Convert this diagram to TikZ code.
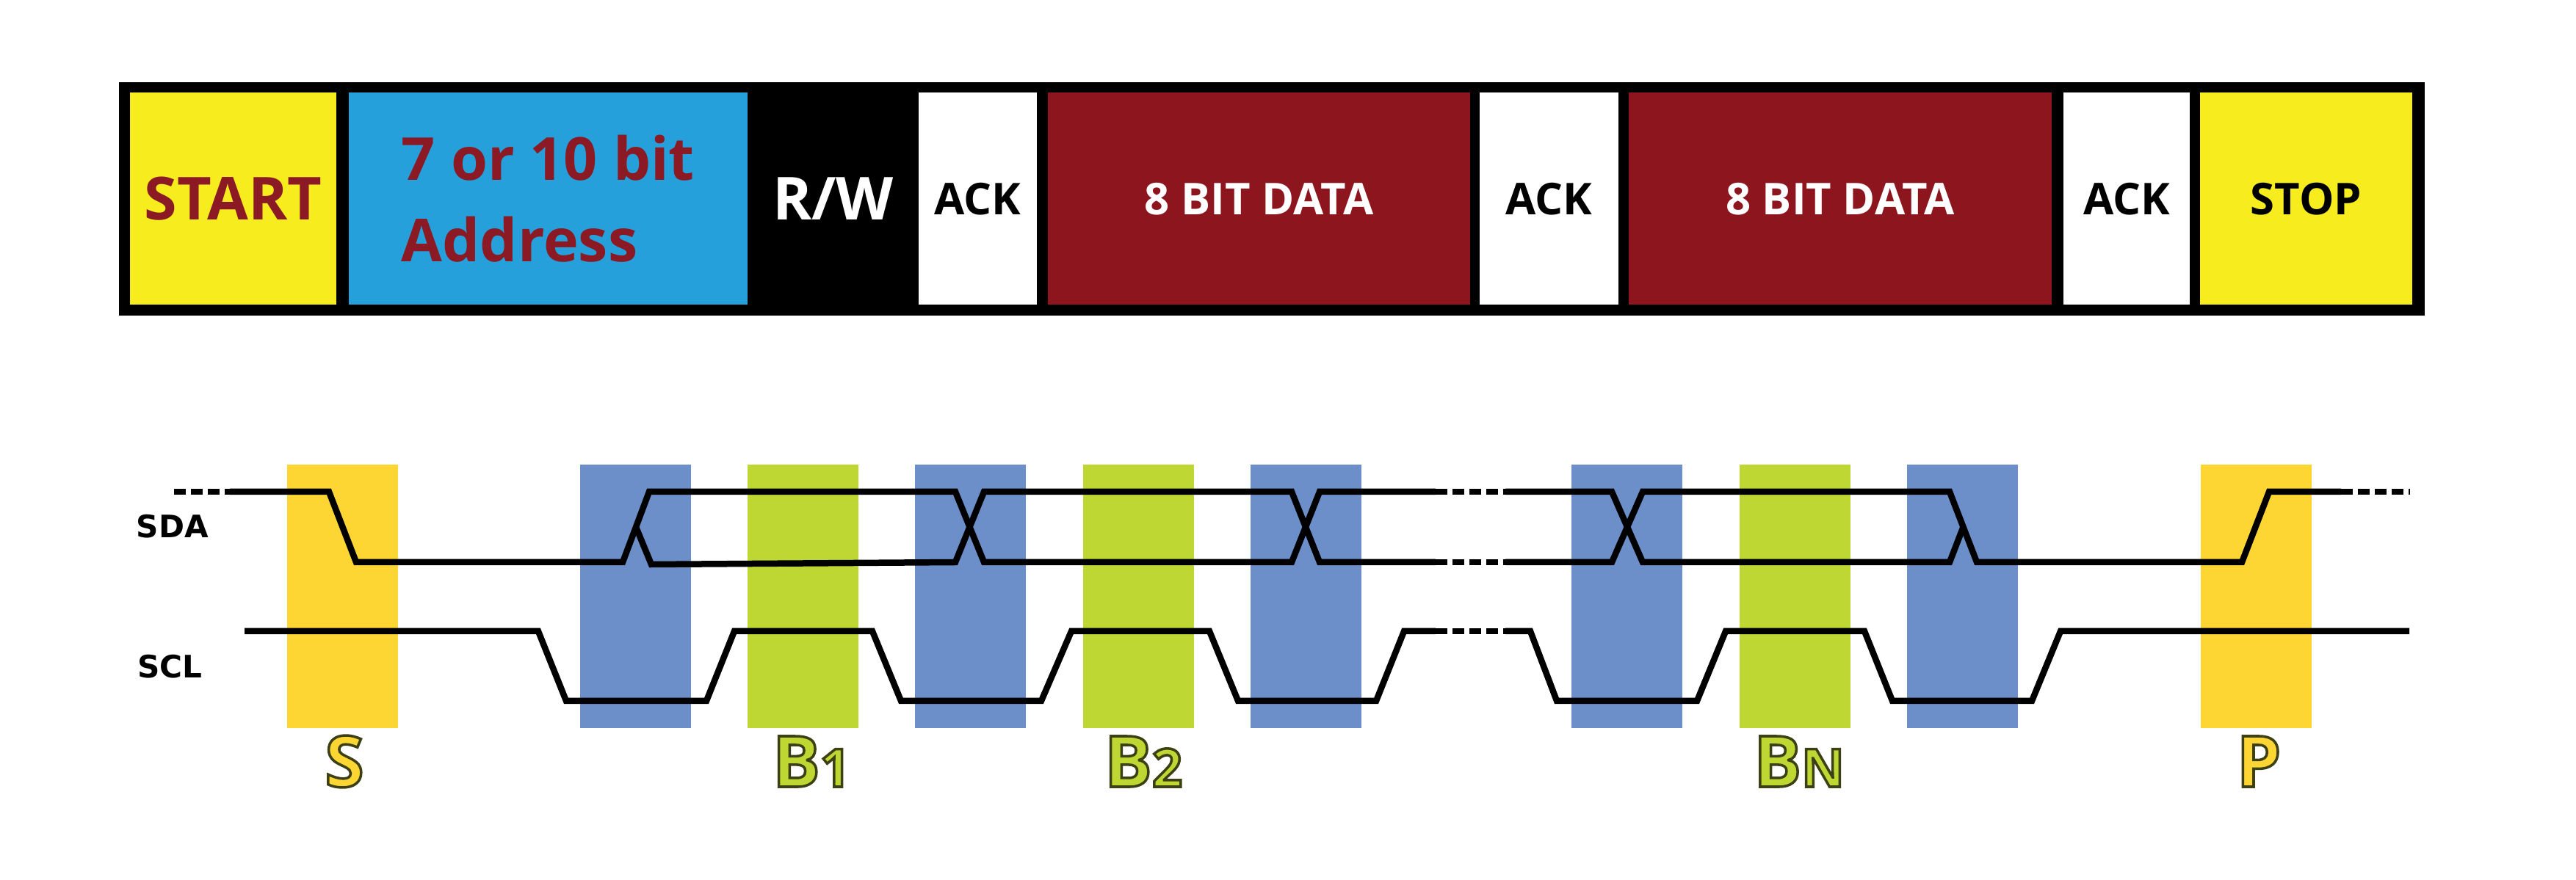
\documentclass[tikz,border=0pt]{standalone}
\usepackage{fontspec}
\setmainfont{Open Sans}
\newfontfamily\sigfont{DejaVu Sans}
\usepackage{tikz}
\usetikzlibrary{arrows.meta}
\definecolor{startyellow}{RGB}{247,237,30}
\definecolor{addrblue}{RGB}{38,160,218}
\definecolor{datared}{RGB}{141,21,29}
\definecolor{maroon}{RGB}{139,26,36}
\definecolor{baryellow}{RGB}{253,214,51}
\definecolor{barblue}{RGB}{108,142,201}
\definecolor{bargreen}{RGB}{190,215,50}
\newcommand{\rimtext}[1]{\special{pdf:literal direct 2 Tr 1 w 0.24 0.25 0.08 RG}#1\special{pdf:literal direct 0 Tr}}

\begin{document}
\begin{tikzpicture}[
    field/.style={rectangle, inner sep=0pt, minimum height=2.89cm, text depth=0pt, font=\bfseries\fontsize{17}{17}\selectfont},
    bigfield/.style={field, font=\bfseries\fontsize{23}{31.7}\selectfont},
    siglabel/.style={anchor=base, inner sep=0pt, font=\bfseries\fontsize{27.5}{30}\selectfont},
    linelabel/.style={inner sep=0pt, font=\sigfont\bfseries\fontsize{12}{12}\selectfont},
    wave/.style={line width=0.085cm, line join=miter},
    skipline/.style={wave, dash pattern=on 1.6mm off 0.7mm}]

    \useasboundingbox (0,0) rectangle (35.08,11.98);
    \fill[white] (0,0) rectangle (35.08,11.98);

    % frame of the message
    \fill[black] (1.62,7.68) rectangle (33.02,10.86);
    \node[bigfield, fill=startyellow, text=maroon, minimum width=2.81cm] (start) at (3.175,9.275) {START};
    \node[bigfield, fill=addrblue, text=maroon, minimum width=5.43cm, align=left] (addr) at (7.465,9.275) {7 or 10 bit\\Address};
    \node[bigfield, fill=black, text=white, minimum width=2.33cm] (rw) at (11.345,9.275) {R/W};
    \node[field, fill=white, minimum width=1.61cm] (ack1) at (13.315,9.275) {ACK};
    \node[field, fill=datared, text=white, minimum width=5.75cm] (data1) at (17.145,9.275) {8 BIT DATA};
    \node[field, fill=white, minimum width=1.89cm] (ack2) at (21.095,9.275) {ACK};
    \node[field, fill=datared, text=white, minimum width=5.76cm] (data2) at (25.06,9.275) {8 BIT DATA};
    \node[field, fill=white, minimum width=1.72cm] (ack3) at (28.96,9.275) {ACK};
    \node[field, fill=startyellow, minimum width=2.89cm] (stop) at (31.405,9.275) {STOP};

    % bit windows
    \foreach \x/\c in {3.91/baryellow, 7.90/barblue, 10.18/bargreen, 12.46/barblue, 14.75/bargreen, 17.03/barblue, 21.40/barblue, 23.69/bargreen, 25.97/barblue, 29.97/baryellow}
        \fill[\c] (\x,2.06) rectangle ++(1.51,3.59);

    \node[linelabel] (sda) at (2.35,4.805) {SDA};
    \node[linelabel] (scl) at (2.315,2.90) {SCL};

    % SDA
    \draw[skipline] (2.37,5.28) -- (3.13,5.28);
    \draw[wave] (3.13,5.28) -- (4.48,5.28) -- (4.85,4.32) -- (8.48,4.32) -- (8.84,5.28) -- (13.01,5.28) -- (13.40,4.32) -- (17.59,4.32) -- (17.97,5.28) -- (19.55,5.28);
    \draw[wave] (8.66,4.80) -- (8.87,4.29) -- (13.01,4.32) -- (13.40,5.28) -- (17.59,5.28) -- (17.97,4.32) -- (19.55,4.32);
    \draw[skipline] (19.55,5.28) -- (20.50,5.28);
    \draw[skipline] (19.55,4.32) -- (20.50,4.32);
    \draw[wave] (20.50,5.28) -- (21.95,5.28) -- (22.37,4.32) -- (26.55,4.32) -- (26.735,4.80);
    \draw[wave] (20.50,4.32) -- (21.95,4.32) -- (22.37,5.28) -- (26.55,5.28) -- (26.92,4.32) -- (30.53,4.32) -- (30.90,5.28) -- (31.88,5.28);
    \draw[skipline] (31.88,5.28) -- (32.82,5.28);

    % SCL
    \draw[wave] (3.33,3.38) -- (7.33,3.38) -- (7.71,2.43) -- (9.62,2.43) -- (10.00,3.38) -- (11.88,3.38) -- (12.27,2.43) -- (14.18,2.43) -- (14.59,3.38) -- (16.47,3.38) -- (16.86,2.43) -- (18.74,2.43) -- (19.12,3.38) -- (19.55,3.38);
    \draw[skipline] (19.55,3.38) -- (20.50,3.38);
    \draw[wave] (20.50,3.38) -- (20.84,3.38) -- (21.20,2.43) -- (23.11,2.43) -- (23.50,3.38) -- (25.39,3.38) -- (25.77,2.43) -- (27.67,2.43) -- (28.06,3.38) -- (32.81,3.38);

    \node[siglabel, text=baryellow] (lbls) at (4.69,1.26) {\rimtext{S}};
    \node[siglabel, text=bargreen] (lblb1) at (11.05,1.26) {\rimtext{B{\fontsize{20.5}{22}\selectfont 1}}};
    \node[siglabel, text=bargreen] (lblb2) at (15.57,1.26) {\rimtext{B{\fontsize{20.5}{22}\selectfont 2}}};
    \node[siglabel, text=bargreen] (lblbn) at (24.50,1.26) {\rimtext{B{\fontsize{20.5}{22}\selectfont N}}};
    \node[siglabel, text=baryellow] (lblp) at (30.76,1.26) {\rimtext{P}};

\end{tikzpicture}
\end{document}
